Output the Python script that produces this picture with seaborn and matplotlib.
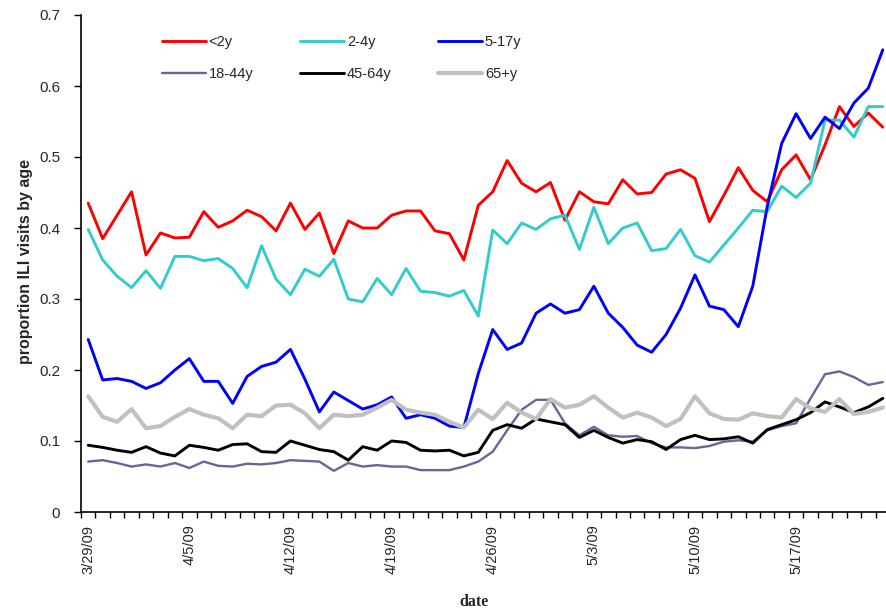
import numpy as np
import pandas as pd
import matplotlib
matplotlib.use("Agg")
import matplotlib.pyplot as plt
import seaborn as sns

dates = pd.date_range("2009-03-29", periods=56, freq="D")
tick_dates = dates[::7]
tick_labels = ["3/29/09", "4/5/09", "4/12/09", "4/19/09", "4/26/09", "5/3/09", "5/10/09", "5/17/09"]
y_ticks = [0, 0.1, 0.2, 0.3, 0.4, 0.5, 0.6, 0.7]
y_tick_labels = ["0", "0.1", "0.2", "0.3", "0.4", "0.5", "0.6", "0.7"]

age_lt2 = [0.435, 0.385, 0.418, 0.451, 0.362, 0.393, 0.386, 0.387, 0.423, 0.401, 0.410, 0.425, 0.416, 0.396,
           0.435, 0.398, 0.421, 0.364, 0.410, 0.400, 0.400, 0.418, 0.424, 0.424, 0.396, 0.392, 0.355, 0.432,
           0.451, 0.495, 0.463, 0.451, 0.464, 0.411, 0.451, 0.437, 0.434, 0.468, 0.448, 0.450, 0.476, 0.482,
           0.470, 0.409, 0.446, 0.485, 0.453, 0.437, 0.482, 0.503, 0.468, 0.517, 0.571, 0.543, 0.562, 0.542]
age_2_4 = [0.398, 0.355, 0.332, 0.316, 0.340, 0.315, 0.360, 0.360, 0.354, 0.357, 0.343, 0.316, 0.375, 0.328,
           0.306, 0.342, 0.332, 0.356, 0.300, 0.296, 0.329, 0.306, 0.343, 0.311, 0.309, 0.304, 0.312, 0.276,
           0.397, 0.378, 0.407, 0.398, 0.413, 0.418, 0.370, 0.429, 0.378, 0.400, 0.407, 0.368, 0.371, 0.398,
           0.361, 0.352, 0.376, 0.400, 0.425, 0.423, 0.459, 0.443, 0.463, 0.552, 0.552, 0.528, 0.571, 0.571]
age_5_17 = [0.243, 0.186, 0.188, 0.184, 0.174, 0.182, 0.200, 0.216, 0.184, 0.184, 0.153, 0.191, 0.205, 0.211,
            0.229, 0.187, 0.141, 0.169, 0.157, 0.145, 0.151, 0.162, 0.132, 0.137, 0.132, 0.121, 0.119, 0.195,
            0.257, 0.229, 0.238, 0.280, 0.293, 0.280, 0.285, 0.318, 0.280, 0.260, 0.235, 0.225, 0.250, 0.287,
            0.334, 0.290, 0.285, 0.261, 0.318, 0.430, 0.519, 0.561, 0.526, 0.556, 0.540, 0.576, 0.597, 0.651]
age_18_44 = [0.071, 0.073, 0.069, 0.064, 0.067, 0.064, 0.069, 0.062, 0.071, 0.065, 0.064, 0.068, 0.067, 0.069,
             0.073, 0.072, 0.071, 0.058, 0.069, 0.064, 0.066, 0.064, 0.064, 0.059, 0.059, 0.059, 0.064, 0.071,
             0.085, 0.115, 0.144, 0.158, 0.158, 0.125, 0.108, 0.120, 0.108, 0.106, 0.107, 0.097, 0.091, 0.091,
             0.090, 0.093, 0.099, 0.101, 0.099, 0.115, 0.121, 0.125, 0.160, 0.194, 0.198, 0.190, 0.179, 0.183]
age_45_64 = [0.094, 0.091, 0.087, 0.084, 0.092, 0.083, 0.079, 0.094, 0.091, 0.087, 0.095, 0.096, 0.085, 0.084,
             0.100, 0.094, 0.088, 0.085, 0.073, 0.092, 0.087, 0.100, 0.098, 0.087, 0.086, 0.087, 0.079, 0.084,
             0.115, 0.123, 0.118, 0.131, 0.127, 0.123, 0.105, 0.115, 0.105, 0.097, 0.102, 0.099, 0.088, 0.102,
             0.108, 0.102, 0.103, 0.106, 0.097, 0.116, 0.123, 0.130, 0.140, 0.155, 0.148, 0.140, 0.148, 0.160]
age_65p = [0.163, 0.134, 0.127, 0.145, 0.118, 0.121, 0.134, 0.145, 0.137, 0.132, 0.118, 0.137, 0.135, 0.150,
           0.151, 0.139, 0.118, 0.137, 0.135, 0.137, 0.147, 0.158, 0.144, 0.140, 0.137, 0.127, 0.119, 0.144,
           0.131, 0.154, 0.140, 0.131, 0.159, 0.147, 0.151, 0.163, 0.147, 0.133, 0.140, 0.133, 0.121, 0.131,
           0.163, 0.139, 0.131, 0.130, 0.139, 0.135, 0.133, 0.159, 0.146, 0.141, 0.159, 0.138, 0.141, 0.147]

series_names = ["<2y", "2-4y", "5-17y", "18-44y", "45-64y", "65+y"]
series_values = [age_lt2, age_2_4, age_5_17, age_18_44, age_45_64, age_65p]
colors = ["#FF0000", "#33CCCC", "#0000FF", "#666699", "#000000", "#C0C0C0"]
widths = [2.1, 2.1, 2.1, 1.7, 2.1, 3.0]

sns.set_style("ticks")
plt.rcParams["font.family"] = ["Liberation Sans", "DejaVu Sans"]

fig = plt.figure(figsize=(8.86, 6.16), dpi=100)
ax = fig.add_axes([81 / 886, 104 / 616, 809 / 886, 497 / 616])

for name, vals, c, lw in zip(series_names, series_values, colors, widths):
    sns.lineplot(x=dates, y=vals, color=c, linewidth=lw, ax=ax, label=name)

hs, ls = ax.get_legend_handles_labels()
order = [0, 3, 1, 4, 2, 5]
ax.legend([hs[i] for i in order], [ls[i] for i in order], ncol=3, frameon=False,
          loc="upper left", bbox_to_anchor=(0.093, 0.971), fontsize=10.5,
          handlelength=3.0, handletextpad=0.2, columnspacing=3.2, labelspacing=1.2,
          borderaxespad=0)

half = pd.Timedelta(hours=12)
ax.set_xlim(dates[0] - half, dates[-1] + half)
ax.set_ylim(0, 0.7)
ax.set_yticks(y_ticks)
ax.set_yticklabels(y_tick_labels, fontsize=11)
ax.set_xticks(tick_dates)
ax.set_xticklabels(tick_labels, rotation=90, fontsize=10.5)
ax.set_xticks(list(dates - half) + [dates[-1] + half], minor=True)
ax.tick_params(axis="x", which="major", length=0, pad=9)
ax.tick_params(axis="x", which="minor", length=4, width=1, direction="out", color="black")
ax.tick_params(axis="y", length=5, width=1, color="black", pad=10)

for s in ["top", "right"]:
    ax.spines[s].set_visible(False)
for s in ["left", "bottom"]:
    ax.spines[s].set_color("black")
    ax.spines[s].set_linewidth(1.2)

ax.set_xlabel("")
ax.set_ylabel("")
fig.text(26 / 886, 1 - 262 / 616, "proportion ILI visits by age", rotation=90,
         ha="center", va="center", fontsize=11.5, fontweight="bold")
fig.text(474 / 886, 1 - 602 / 616, "date", ha="center", va="center",
         fontsize=11.5, fontweight="bold", family=["Liberation Serif", "DejaVu Serif"])

fig.savefig("out.png", dpi=100)
